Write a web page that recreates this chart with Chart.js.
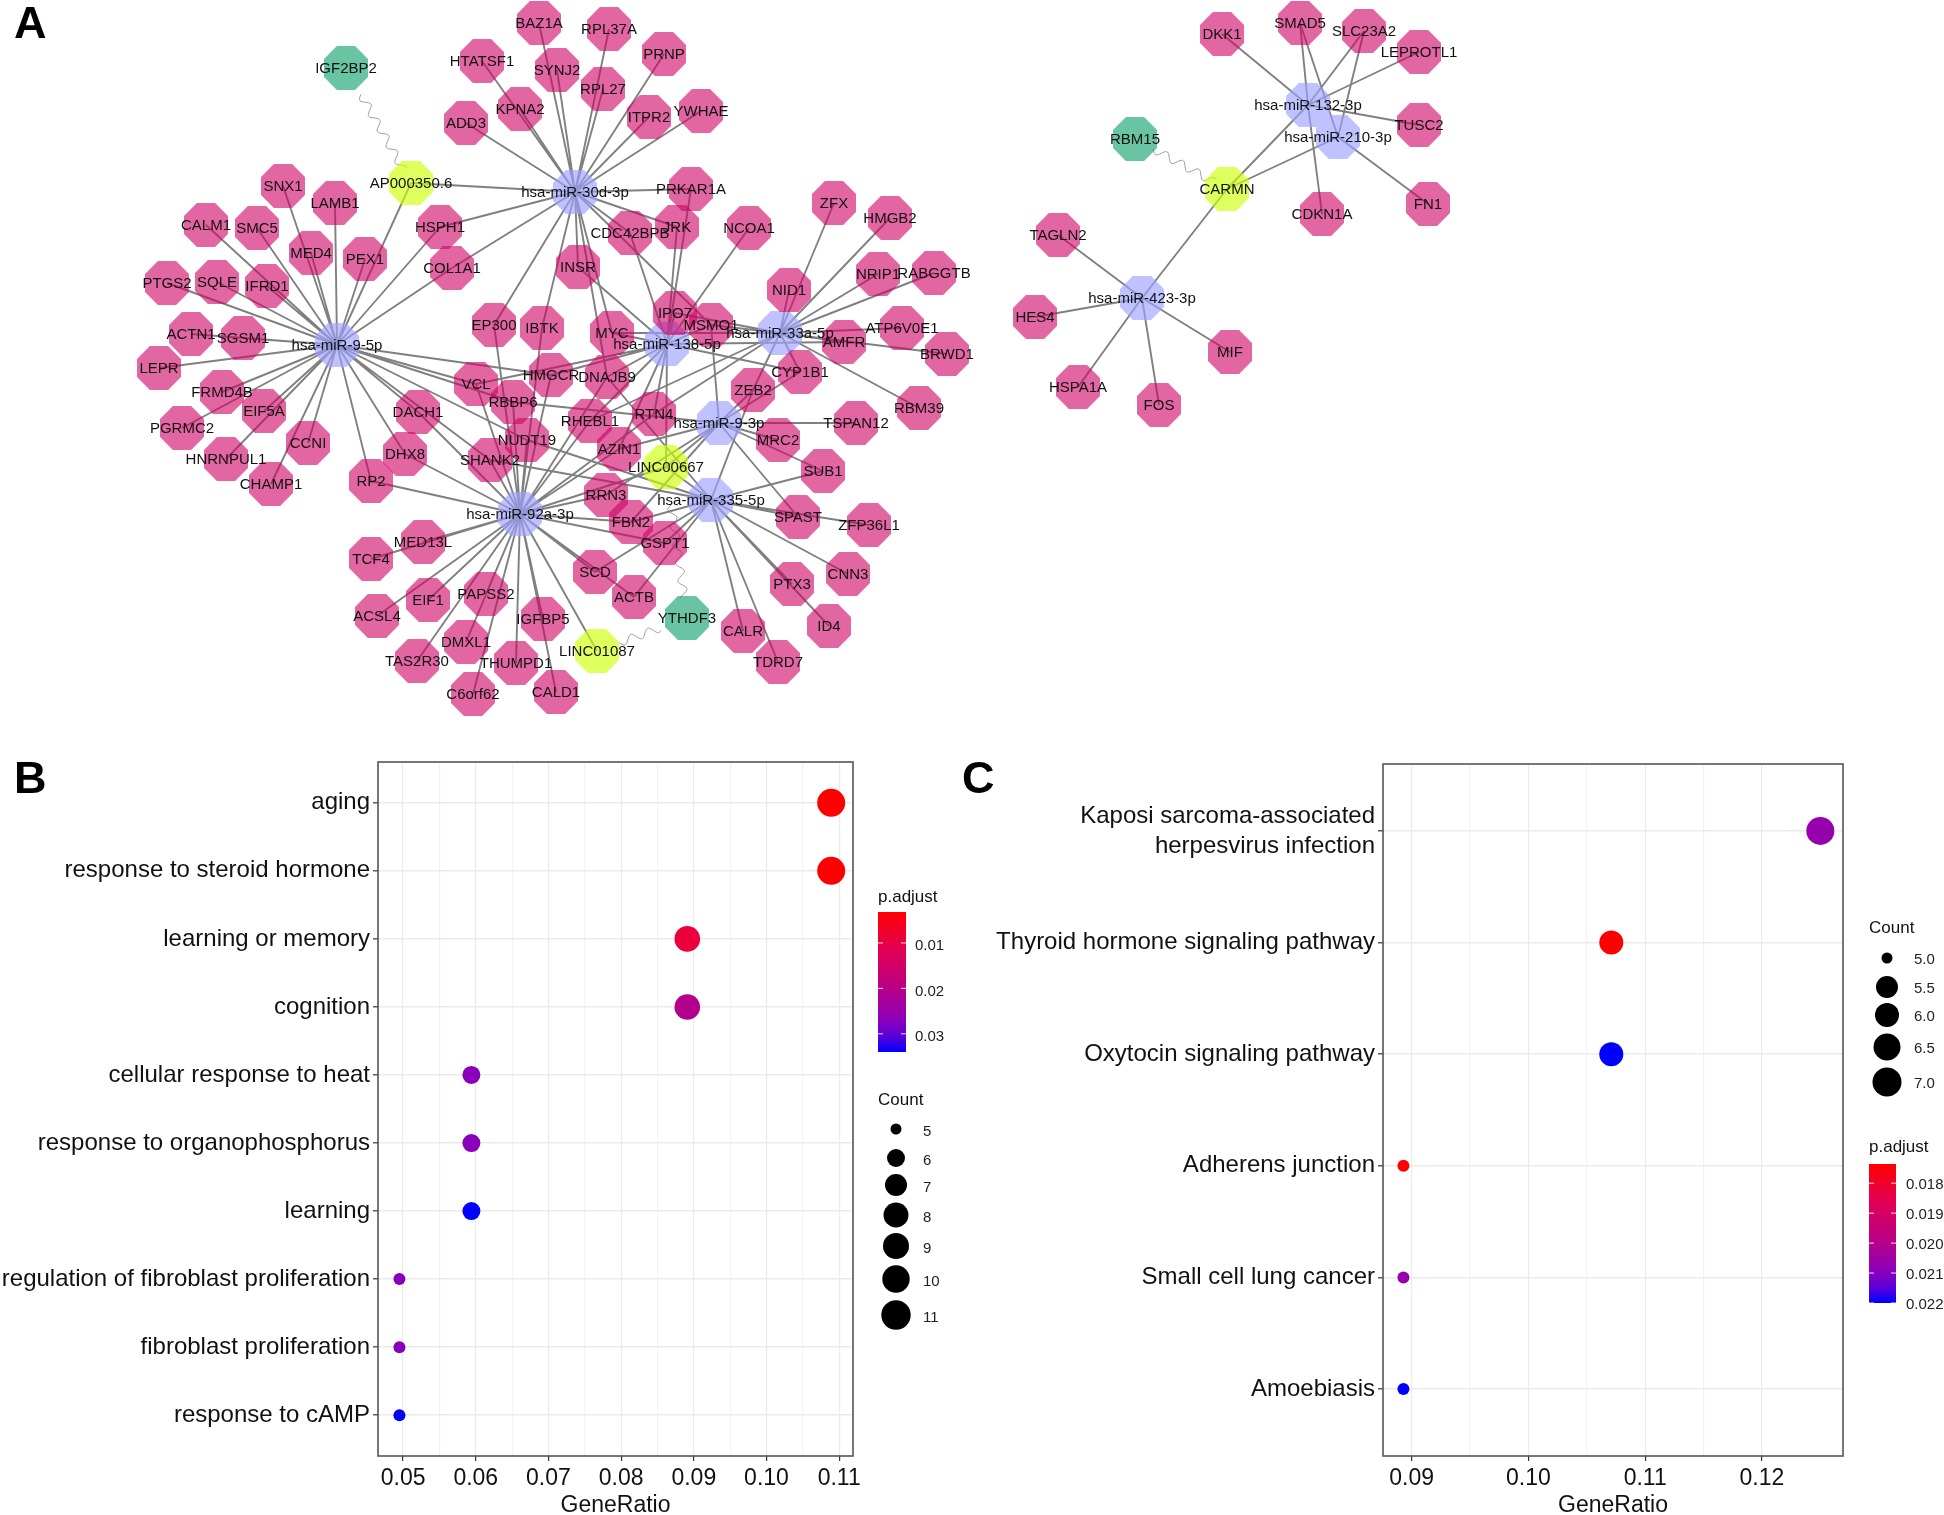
<!DOCTYPE html>
<html><head><meta charset="utf-8">
<script src="https://cdn.jsdelivr.net/npm/chart.js@4/dist/chart.umd.min.js"></script>
<style>
html,body{margin:0;padding:0;background:#fff;width:1944px;height:1515px;overflow:hidden}
canvas{position:absolute;display:block}
.tag{position:absolute;font:bold 45px "Liberation Sans",Arial,sans-serif;color:#000;line-height:45px}
</style></head><body>
<canvas id="net" width="1944" height="750" style="left:0;top:0"></canvas>
<canvas id="pb" width="950" height="765" style="left:0;top:750px"></canvas>
<canvas id="pc" width="994" height="765" style="left:950px;top:750px"></canvas>
<div class="tag" style="left:14px;top:0px">A</div>
<div class="tag" style="left:14px;top:755px">B</div>
<div class="tag" style="left:962px;top:755px">C</div>
<script>
const FONT='"Liberation Sans",Arial,sans-serif';
/* ---------- Panel A: network layout ---------- */
const hubNames=["hsa-miR-30d-3p","hsa-miR-9-5p","hsa-miR-138-5p","hsa-miR-33a-5p","hsa-miR-9-3p","hsa-miR-335-5p","hsa-miR-92a-3p","hsa-miR-132-3p","hsa-miR-210-3p","hsa-miR-423-3p"];
const hubX=[575,337,667,780,719,711,520,1308,1338,1142];
const hubY=[192,345,344,333,423,500,514,105,137,298];
const lncNames=["AP000350.6","LINC00667","LINC01087","CARMN"];
const lncX=[411,666,597,1227];
const lncY=[183,467,651,189];
const rbpNames=["IGF2BP2","YTHDF3","RBM15"];
const rbpX=[346,687,1135];
const rbpY=[68,618,139];
const targetNames=["BAZ1A","RPL37A","HTATSF1","SYNJ2","RPL27","PRNP","KPNA2","ADD3","ITPR2","YWHAE","SNX1","LAMB1","CALM1","SMC5","MED4","PEX1","HSPH1","COL1A1","PTGS2","SQLE","IFRD1","ACTN1","SGSM1","LEPR","INSR","EP300","IBTK","PRKAR1A","JRK","CDC42BPB","NCOA1","ZFX","HMGB2","NID1","NRIP1","RABGGTB","IPO7","MSMO1","MYC","ATP6V0E1","AMFR","BRWD1","CYP1B1","ZEB2","HMGCR","DNAJB9","VCL","RBBP6","RHEBL1","RTN4","TSPAN12","RBM39","MRC2","SUB1","NUDT19","AZIN1","SHANK2","DACH1","DHX8","RP2","RRN3","FBN2","SPAST","ZFP36L1","GSPT1","SCD","CNN3","PTX3","ACTB","ID4","CALR","TDRD7","IGFBP5","CALD1","THUMPD1","C6orf62","DMXL1","TAS2R30","PAPSS2","EIF1","ACSL4","TCF4","MED13L","FRMD4B","EIF5A","PGRMC2","HNRNPUL1","CCNI","CHAMP1","DKK1","SMAD5","SLC23A2","LEPROTL1","TUSC2","CDKN1A","FN1","TAGLN2","HES4","MIF","HSPA1A","FOS"];
const targetX=[539,609,482,557,603,664,520,466,649,701,283,335,206,257,311,365,440,452,167,217,267,191,243,159,578,494,542,691,677,630,749,834,890,789,878,934,675,711,612,902,844,947,800,753,551,607,476,513,590,654,856,919,778,823,527,619,490,418,405,371,606,631,798,869,665,595,848,792,634,829,743,778,543,556,516,473,466,417,486,428,377,371,423,222,264,182,226,308,271,1222,1300,1364,1419,1419,1322,1428,1058,1035,1230,1078,1159];
const targetY=[23,29,61,70,89,54,109,123,117,111,186,203,225,228,253,259,227,268,283,282,286,334,338,368,267,325,328,189,227,233,228,203,218,290,274,273,313,325,333,328,342,354,372,390,375,377,384,402,421,414,423,408,440,471,440,449,460,412,454,481,495,522,517,525,543,572,574,584,597,626,631,662,619,692,663,694,642,661,594,600,616,559,542,392,411,428,459,443,484,34,23,31,52,125,214,204,235,317,352,387,405];
/* edges: hub -> partners */
const edges30d=["BAZ1A","RPL37A","HTATSF1","SYNJ2","RPL27","PRNP","KPNA2","ADD3","ITPR2","YWHAE","AP000350.6","PRKAR1A","JRK","CDC42BPB","HSPH1","COL1A1","EP300","IBTK","INSR","MYC","DNAJB9","MSMO1"];
const edges9_5p=["SNX1","LAMB1","CALM1","SMC5","MED4","PEX1","AP000350.6","HSPH1","COL1A1","PTGS2","SQLE","IFRD1","ACTN1","SGSM1","LEPR","FRMD4B","EIF5A","PGRMC2","HNRNPUL1","CCNI","CHAMP1","RP2","DHX8","DACH1","SHANK2","VCL","HMGCR","RBBP6","NUDT19"];
const edges138=["IPO7","MSMO1","MYC","JRK","PRKAR1A","NCOA1","CDC42BPB","INSR","HMGCR","VCL","DNAJB9","RTN4","LINC00667","RHEBL1","AZIN1","CYP1B1","AMFR"];
const edges33a=["ZFX","HMGB2","NID1","NRIP1","RABGGTB","ATP6V0E1","AMFR","BRWD1","CYP1B1","ZEB2","RBM39","IPO7","MSMO1","MYC","RTN4","RHEBL1"];
const edges9_3p=["TSPAN12","MRC2","ZEB2","LINC00667","RBBP6","SUB1","SPAST","MSMO1","CYP1B1","RRN3","AZIN1","FBN2"];
const edges335=["LINC00667","SUB1","ZFP36L1","CNN3","PTX3","ID4","CALR","TDRD7","ACTB","SCD","GSPT1","FBN2","ZEB2","NUDT19","SHANK2","DNAJB9","SPAST"];
const edges92a=["TCF4","MED13L","ACSL4","EIF1","PAPSS2","TAS2R30","DMXL1","C6orf62","THUMPD1","IGFBP5","CALD1","LINC01087","SCD","ACTB","GSPT1","FBN2","RRN3","RP2","DHX8","DACH1","SHANK2","VCL","EP300","IBTK","HMGCR","DNAJB9","RBBP6","NUDT19","RHEBL1","RTN4","AZIN1","LINC00667"];
const edges132=["DKK1","SMAD5","SLC23A2","LEPROTL1","TUSC2","CARMN","CDKN1A"];
const edges210=["SMAD5","SLC23A2","FN1","CARMN"];
const edges423=["TAGLN2","HES4","HSPA1A","FOS","MIF","CARMN"];
const edgeLists=[edges30d,edges9_5p,edges138,edges33a,edges9_3p,edges335,edges92a,edges132,edges210,edges423];
/* wavy RBP links: from, to, visible start and end fraction */
const waveFrom=["IGF2BP2","LINC01087","LINC00667","RBM15"];
const waveTo=["AP000350.6","YTHDF3","YTHDF3","CARMN"];
const waveStart=[0.23,0.25,0.25,0.2];
const waveEnd=[0.89,0.70,0.87,0.87];

/* ---------- Panel B ---------- */
const termsB=["aging","response to steroid hormone","learning or memory","cognition","cellular response to heat","response to organophosphorus","learning","regulation of fibroblast proliferation","fibroblast proliferation","response to cAMP"];
const ratioB=[0.1089,0.1089,0.0891,0.0891,0.0594,0.0594,0.0594,0.0495,0.0495,0.0495];
const countB=[11,11,9,9,6,6,6,5,5,5];
const padjB=[0.0033,0.0034,0.009,0.021,0.027,0.027,0.034,0.027,0.027,0.034];
const xMajorB=[0.05,0.06,0.07,0.08,0.09,0.10,0.11];
const xMinorB=[0.055,0.065,0.075,0.085,0.095,0.105];
const legendCountB=[5,6,7,8,9,10,11];
const colorTicksB=[0.01,0.02,0.03];
/* ---------- Panel C ---------- */
const termsC=[["Kaposi sarcoma-associated","herpesvirus infection"],"Thyroid hormone signaling pathway","Oxytocin signaling pathway","Adherens junction","Small cell lung cancer","Amoebiasis"];
const ratioC=[0.125,0.1071,0.1071,0.0893,0.0893,0.0893];
const countC=[7,6,6,5,5,5];
const padjC=[0.0207,0.01736,0.022,0.01736,0.0207,0.022];
const xMajorC=[0.09,0.10,0.11,0.12];
const xMinorC=[0.095,0.105,0.115];
const legendCountC=[5.0,5.5,6.0,6.5,7.0];
const colorTicksC=[0.018,0.019,0.020,0.021,0.022];

/* ---------- helpers ---------- */
function octagon(fill){
  const s=44,c=document.createElement('canvas');c.width=s;c.height=s;
  const g=c.getContext('2d'),k=s*0.2929;
  g.fillStyle=fill;g.beginPath();
  [[k,0],[s-k,0],[s,k],[s,s-k],[s-k,s],[k,s],[0,s-k],[0,k]].forEach((p,i)=>i?g.lineTo(p[0],p[1]):g.moveTo(p[0],p[1]));
  g.closePath();g.fill();return c;
}
const pos={};
function reg(n,x,y){n.forEach((m,i)=>pos[m]={x:x[i],y:y[i]});}
reg(hubNames,hubX,hubY);reg(lncNames,lncX,lncY);reg(rbpNames,rbpX,rbpY);reg(targetNames,targetX,targetY);
const nodeSet=(n,x,y,fill)=>({type:'scatter',data:n.map((m,i)=>({x:x[i],y:y[i],name:m})),pointStyle:octagon(fill),pointRadius:22,pointHoverRadius:22,showLine:false,order:1});
const edgeDatasets=edgeLists.map((l,i)=>{
  const pts=[];l.forEach(t=>{pts.push({x:hubX[i],y:hubY[i]},{x:pos[t].x,y:pos[t].y},{x:NaN,y:NaN});});
  return {type:'scatter',data:pts,showLine:true,spanGaps:false,pointRadius:0,borderColor:'#808080',borderWidth:1.9,order:5};
});
const netPlugin={id:'netPlugin',
  beforeDatasetsDraw(ch){
    const c=ch.ctx,sx=ch.scales.x,sy=ch.scales.y;
    c.save();c.strokeStyle='#9a9a9a';c.lineWidth=1;
    waveFrom.forEach((f,i)=>{
      const a=pos[f],b=pos[waveTo[i]];
      const ax=sx.getPixelForValue(a.x),ay=sy.getPixelForValue(a.y),bx=sx.getPixelForValue(b.x),by=sy.getPixelForValue(b.y);
      const dx=bx-ax,dy=by-ay,L=Math.hypot(dx,dy),ux=dx/L,uy=dy/L;
      c.beginPath();
      for(let d=waveStart[i]*L;d<=waveEnd[i]*L;d+=1){
        const w=4*Math.sin((d-waveStart[i]*L)/18*2*Math.PI);
        const px=ax+ux*d-uy*w,py=ay+uy*d+ux*w;
        d===waveStart[i]*L?c.moveTo(px,py):c.lineTo(px,py);
      }
      c.stroke();
    });
    c.restore();
  },
  afterDatasetsDraw(ch){
    const c=ch.ctx,sx=ch.scales.x,sy=ch.scales.y;
    c.save();c.fillStyle='#111';c.font='15px '+FONT;c.textAlign='center';c.textBaseline='middle';
    Object.keys(pos).forEach(m=>c.fillText(m,sx.getPixelForValue(pos[m].x),sy.getPixelForValue(pos[m].y)+1));
    c.restore();
  }};
new Chart(document.getElementById('net'),{
  type:'scatter',
  data:{datasets:[...edgeDatasets,
    Object.assign(nodeSet(hubNames,hubX,hubY,'rgba(157,161,255,0.65)'),{order:4}),
    Object.assign(nodeSet(lncNames,lncX,lncY,'rgba(206,255,9,0.65)'),{order:3}),
    Object.assign(nodeSet(rbpNames,rbpX,rbpY,'rgba(25,165,115,0.65)'),{order:2}),
    nodeSet(targetNames,targetX,targetY,'rgba(207,0,100,0.6)')]},
  options:{responsive:false,animation:false,events:[],
    layout:{padding:0,autoPadding:false},
    plugins:{legend:{display:false},tooltip:{enabled:false}},
    scales:{x:{type:'linear',min:0,max:1944,display:false},y:{type:'linear',min:0,max:750,reverse:true,display:false}}},
  plugins:[netPlugin]
});

/* colour scale red -> blue as ggplot interpolates it */
const gradStops=[[0,[255,0,0]],[0.25,[228,0,79]],[0.5,[193,0,124]],[0.75,[145,0,180]],[0.875,[100,0,213]],[1,[0,0,255]]];
function gradColor(t){
  t=Math.max(0,Math.min(1,t));
  for(let i=1;i<gradStops.length;i++){
    if(t<=gradStops[i][0]){
      const a=gradStops[i-1],b=gradStops[i],f=(t-a[0])/(b[0]-a[0]);
      return 'rgb('+a[1].map((v,k)=>Math.round(v+(b[1][k]-v)*f)).join(',')+')';
    }
  }
  return 'rgb(0,0,255)';
}
function dotPanel(id,o){
  const framePlugin={id:'frame',
    afterDraw(ch){
      const c=ch.ctx,a=ch.chartArea;
      c.save();c.strokeStyle='#555';c.lineWidth=1.6;
      c.strokeRect(a.left,a.top,a.right-a.left,a.bottom-a.top);
      c.translate(-o.left,-o.top);
      const L=o.legend;
      c.fillStyle='#111';c.textBaseline='middle';c.textAlign='left';
      c.font='17px '+FONT;
      c.fillText('p.adjust',L.barX,L.barTitleY);
      c.fillText('Count',L.barX+L.countTitleDx,L.countTitleY);
      const gr=c.createLinearGradient(0,L.barTop,0,L.barBot);
      gradStops.forEach(s=>gr.addColorStop(s[0],'rgb('+s[1].join(',')+')'));
      c.fillStyle=gr;c.fillRect(L.barX,L.barTop,L.barW,L.barBot-L.barTop);
      c.font='15px '+FONT;
      o.colorTicks.forEach((v,i)=>{
        const y=L.barTop+(v-o.padjMin)/(o.padjMax-o.padjMin)*(L.barBot-L.barTop);
        c.strokeStyle='rgba(255,255,255,0.85)';c.lineWidth=1;
        c.beginPath();c.moveTo(L.barX,y);c.lineTo(L.barX+5,y);c.moveTo(L.barX+L.barW-5,y);c.lineTo(L.barX+L.barW,y);c.stroke();
        c.fillStyle='#222';c.fillText(o.colorFmt(v),L.barX+L.barW+L.labGap,y+L.labDy);
      });
      o.legendCount.forEach((v,i)=>{
        c.fillStyle='#000';c.beginPath();c.arc(L.dotX,L.dotY[i],L.dotR[i],0,Math.PI*2);c.fill();
        c.fillStyle='#222';c.fillText(o.countFmt(v),L.dotLabX,L.dotY[i]+L.labDy);
      });
      c.restore();
    }};
  const isMajor=v=>o.xMajor.some(m=>Math.abs(m-v)<1e-6);
  new Chart(document.getElementById(id),{
    type:'bubble',
    data:{datasets:[{
      data:o.ratio.map((x,i)=>({x,y:i,r:o.radius[o.count[i]]})),
      backgroundColor:o.padj.map(p=>gradColor((p-o.padjMin)/(o.padjMax-o.padjMin))),
      borderWidth:0,hoverBorderWidth:0,clip:false}]},
    options:{responsive:false,animation:false,events:[],
      layout:{autoPadding:false,padding:{top:o.padTop,right:o.padRight,left:0,bottom:0}},
      plugins:{legend:{display:false},tooltip:{enabled:false}},
      scales:{
        x:{type:'linear',min:o.xMin,max:o.xMax,
          afterBuildTicks(s){s.ticks=[...o.xMajor,...o.xMinor].sort((a,b)=>a-b).map(v=>({value:v}));},
          afterFit(s){s.height=o.xH;s.paddingLeft=0;s.paddingRight=0;},
          border:{display:false},
          grid:{color:c=>isMajor(c.tick.value)?'#ebebeb':'#f2f2f2',lineWidth:1.2,tickLength:5,
                tickColor:c=>isMajor(c.tick.value)?'#333':'rgba(0,0,0,0)',tickWidth:1.2},
          ticks:{autoSkip:false,maxRotation:0,minRotation:0,padding:4,color:'#111',font:{family:FONT,size:o.xFont},
                 callback:v=>isMajor(v)?v.toFixed(2):''},
          title:{display:true,text:'GeneRatio',color:'#111',font:{family:FONT,size:o.titleFont},padding:{top:0,bottom:-4}}},
        y:{type:'linear',reverse:true,min:-0.6,max:o.terms.length-0.4,
          afterBuildTicks(s){s.ticks=o.terms.map((t,i)=>({value:i}));},
          afterFit(s){s.width=o.yW;s.paddingTop=0;s.paddingBottom=0;},
          border:{display:false},
          grid:{color:'#ebebeb',lineWidth:1.6,tickLength:5,tickColor:'#333',tickWidth:1.2},
          ticks:{autoSkip:false,padding:3,color:'#111',font:{family:FONT,size:o.yFont,lineHeight:1.25},
                 callback:v=>o.terms[v]}}
      }},
    plugins:[framePlugin]
  });
}
dotPanel('pb',{left:0,top:750,padTop:12,padRight:97,xH:59,yW:378,
  terms:termsB,ratio:ratioB,count:countB,padj:padjB,xMajor:xMajorB,xMinor:xMinorB,
  xMin:0.04655,xMax:0.1119,radius:{5:6,6:9,9:12.8,11:14},
  padjMin:0.0032,padjMax:0.034,colorTicks:colorTicksB,legendCount:legendCountB,
  colorFmt:v=>v.toFixed(2),countFmt:v=>String(v),xFont:23,yFont:24,titleFont:23,
  legend:{barX:878,barW:28,barTop:912,barBot:1052,barTitleY:897,countTitleY:1100,countTitleDx:0,labGap:9,labDy:3,
    dotX:896,dotY:[1129,1158,1185,1215,1246,1279,1315],dotR:[5.5,9,11,12.5,13,13.7,14.7],dotLabX:923}});
dotPanel('pc',{left:950,top:750,padTop:14,padRight:101,xH:59,yW:433,
  terms:termsC,ratio:ratioC,count:countC,padj:padjC,xMajor:xMajorC,xMinor:xMinorC,
  xMin:0.08755,xMax:0.12694,radius:{5:6,6:12,7:14},
  padjMin:0.01736,padjMax:0.022,colorTicks:colorTicksC,legendCount:legendCountC,
  colorFmt:v=>v.toFixed(3),countFmt:v=>v.toFixed(1),xFont:23,yFont:24,titleFont:23,
  legend:{barX:1869,barW:27,barTop:1164,barBot:1303,barTitleY:1147,countTitleY:928,countTitleDx:0,labGap:10,labDy:2,
    dotX:1887,dotY:[958,987,1015,1047,1082],dotR:[5.5,11,12,13.5,14.5],dotLabX:1914}});
</script>
</body></html>
